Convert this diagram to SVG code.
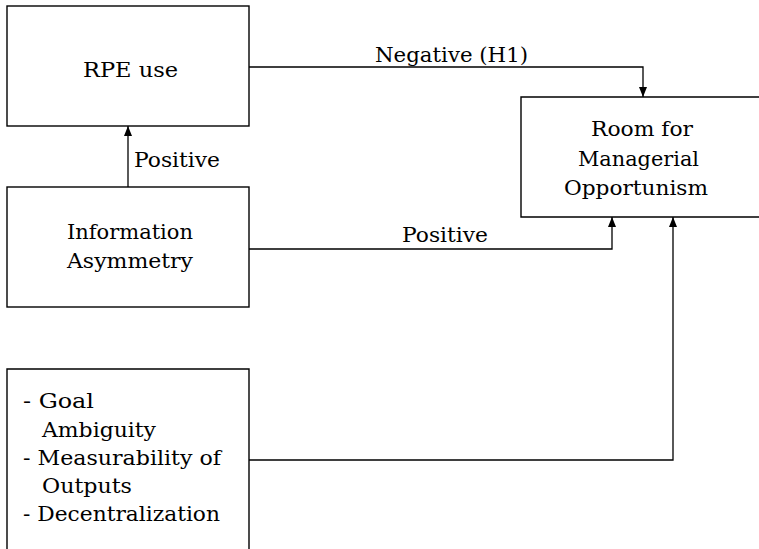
<svg xmlns="http://www.w3.org/2000/svg" width="759" height="549" viewBox="0 0 759 549">
  <style>
    .box { fill: #ffffff; stroke: #000000; stroke-width: 1.4; }
    .edge { fill: none; stroke: #000000; stroke-width: 1.3; }
    .lbl { font-family: "DejaVu Serif", "Liberation Serif", serif; font-size: 20px; fill: #000000; }
  </style>
  <defs>
    <marker id="arrow" viewBox="0 0 10 8" refX="10" refY="4" markerWidth="10" markerHeight="8" markerUnits="userSpaceOnUse" orient="auto">
      <path d="M0,0 L10,4 L0,8 Z" fill="#000000"/>
    </marker>
  </defs>

  <g id="rpe-use">
    <rect class="box" x="7" y="6" width="242" height="120"/>
    <text class="lbl" x="83" y="77" textLength="95" lengthAdjust="spacingAndGlyphs">RPE use</text>
  </g>

  <g id="information-asymmetry">
    <rect class="box" x="7" y="187" width="242" height="120"/>
    <text class="lbl" x="67" y="239" textLength="126" lengthAdjust="spacingAndGlyphs">Information</text>
    <text class="lbl" x="67" y="268" textLength="126" lengthAdjust="spacingAndGlyphs">Asymmetry</text>
  </g>

  <!-- right side of this box runs past the page edge -->
  <g id="room-for-opportunism">
    <path class="box" d="M780,97 H521 V217 H780"/>
    <text class="lbl" x="591" y="136" textLength="102" lengthAdjust="spacingAndGlyphs">Room for</text>
    <text class="lbl" x="578" y="166" textLength="121" lengthAdjust="spacingAndGlyphs">Managerial</text>
    <text class="lbl" x="564" y="195" textLength="144" lengthAdjust="spacingAndGlyphs">Opportunism</text>
  </g>

  <!-- bottom of this box runs past the page edge -->
  <g id="contextual-factors">
    <path class="box" d="M7,560 V369 H249 V560"/>
    <text class="lbl" x="23" y="408" textLength="71" lengthAdjust="spacingAndGlyphs">- Goal</text>
    <text class="lbl" x="42" y="436.5" textLength="114" lengthAdjust="spacingAndGlyphs">Ambiguity</text>
    <text class="lbl" x="23" y="465" textLength="198" lengthAdjust="spacingAndGlyphs">- Measurability of</text>
    <text class="lbl" x="42" y="493" textLength="90" lengthAdjust="spacingAndGlyphs">Outputs</text>
    <text class="lbl" x="23" y="521" textLength="197" lengthAdjust="spacingAndGlyphs">- Decentralization</text>
  </g>

  <g id="connectors">
    <path class="edge" d="M128,187 V126" marker-end="url(#arrow)"/>
    <text class="lbl" x="134" y="167" textLength="86" lengthAdjust="spacingAndGlyphs">Positive</text>

    <path class="edge" d="M249,67 H643 V97" marker-end="url(#arrow)"/>
    <text class="lbl" x="375" y="62" textLength="153" lengthAdjust="spacingAndGlyphs">Negative (H1)</text>

    <path class="edge" d="M249,249 H612 V217" marker-end="url(#arrow)"/>
    <text class="lbl" x="402" y="242" textLength="86" lengthAdjust="spacingAndGlyphs">Positive</text>

    <path class="edge" d="M249,460 H673 V217" marker-end="url(#arrow)"/>
  </g>
</svg>
